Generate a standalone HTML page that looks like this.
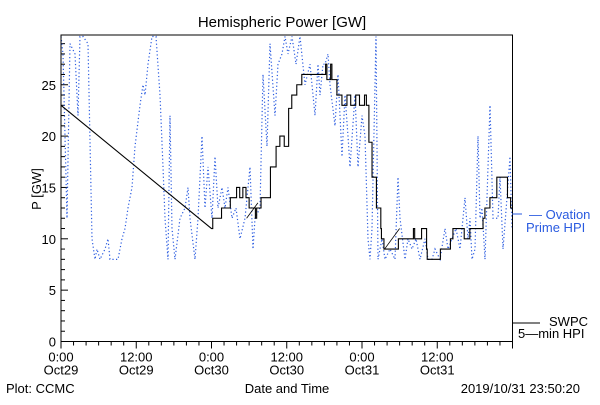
<!DOCTYPE html>
<html><head><meta charset="utf-8"><style>
body{margin:0;background:#fff}
svg text{font-family:"Liberation Sans","DejaVu Sans",sans-serif}
</style></head><body>
<svg id="c" width="600" height="400" xmlns="http://www.w3.org/2000/svg">
<rect width="600" height="400" fill="#fff"/>
<text x="282" y="27" font-size="15" text-anchor="middle">Hemispheric Power [GW]</text>
<text x="0" y="0" font-size="13" text-anchor="middle" transform="translate(41,189) rotate(-90)">P [GW]</text>
<text x="287" y="393" font-size="13" text-anchor="middle">Date and Time</text>
<text x="6" y="393" font-size="13">Plot: CCMC</text>
<text x="580" y="393" font-size="13" text-anchor="end">2019/10/31 23:50:20</text>
<g id="ticks"></g>
<g id="series"></g>
<rect x="61" y="35" width="451.5" height="306.5" fill="none" stroke="#000" stroke-width="1"/>
<line x1="512" y1="214" x2="522" y2="214" stroke="#2a5be0"/>
<text x="529" y="219" font-size="13" fill="#2a5be0">— Ovation</text>
<text x="526" y="232" font-size="13" fill="#2a5be0">Prime HPI</text>
<line x1="512" y1="323" x2="540" y2="323" stroke="#000"/>
<text x="549" y="326" font-size="13">SWPC</text>
<text x="518" y="338" font-size="13">5—min HPI</text>
</svg>
<script>
const yTicks=[0,5,10,15,20,25];
const xTickLabels=[["0:00","Oct29"],["12:00","Oct29"],["0:00","Oct30"],["12:00","Oct30"],["0:00","Oct31"],["12:00","Oct31"]];
const swpcHours=[0,24,24.2,25.6,27,28,28.5,29,29.5,30,31,31.2,31.9,32.8,33.4,34.3,34.9,35.6,36.3,36.8,37.6,38.4,42.2,42.4,43,43.2,44,44.8,45.6,46.2,47,47.6,48.4,48.7,49.1,49.6,50.3,51,51.1,51.5,53.4,53.8,56.2,56.4,57.5,58.3,58.4,59.8,60.5,62.1,62.5,63.3,64.3,65.2,67.3,67.6,68.4,69.2,69.5,70,71.2,71.7,72];
const swpcValues=[23,11,12,13,14,15,14,15,14,13,12,13,14,14,17,19,20,19,22.7,24,25,26,27,25.5,27,25.5,24,23,24,23,24,23,24,23,19.4,16,13,11,10,9,9,10,11,10,11,9,8,8,9,10,11,11,10,11,12,13,14,14,16,16,14,13,13];
const diagStartHours=[29.6,51.6];
const diagStartValues=[12,9];
const diagEndHours=[31.4,54];
const diagEndValues=[13.5,11];
const ovX=[61,63,67,70,75,78,80,83,88,92,95,97,100,105,108,110,115,118,122,125,128,132,135,140,143,145,148,152,156,160,163,165,168,170,172,175,180,185,188,190,195,198,202,205,208,212,215,218,222,225,228,232,236,240,245,250,253,255,260,263,267,270,275,278,282,285,288,292,296,300,305,310,315,318,320,323,325,328,330,335,338,342,345,348,350,355,358,362,365,368,370,372,376,378,382,385,390,395,398,400,405,408,412,416,420,425,428,432,435,440,445,448,452,456,460,465,468,470,472,475,478,480,482,485,490,493,498,500,503,507,510,512];
const ovValues=[30,28,12,29,28,22,30,30,29,10,8,9,8,9,10,8,8,8,10,11,13,15,19,23,25,24,27,30,30,24,17,12,8,22,11,8,12,13,15,12,8,12,20,13,17,12,18,13,15,13,15,12,13,10,12,17,9,12,13,26,19,29,22,27,28,30,28,30,27,30,25,27,22,27,24,27,27,28,25,21,26,18,24,20,17,24,17,22,20,10,8,11,30,8,10,8,9,8,16,12,8,10,9,10,8,10,8,8,9,8,11,9,10,11,9,14,10,12,8,9,20,12,13,8,23,12,12,16,9,14,18,11];
const NS="http://www.w3.org/2000/svg";
const X0=61,X1=512.5,Y0=341.5,PXU=10.27;
function xs(h){return X0+(X1-X0)*h/72;}
function ys(v){return Y0-Math.min(v,29.7)*PXU;}
function xFromPx(p){return (p-X0)/(X1-X0)*72;}
const tk=document.getElementById('ticks'),se=document.getElementById('series');
function mk(tag,attrs,parent){const e=document.createElementNS(NS,tag);for(const k in attrs)e.setAttribute(k,attrs[k]);parent.appendChild(e);return e;}
for(let v=0;v<=29;v++){const l=mk('line',{x1:X0,x2:X0+(v%5?4:7),y1:ys(v),y2:ys(v),stroke:'#000'},tk);

}
yTicks.forEach(v=>{const t=mk('text',{x:X0-5,y:ys(v)+5,'font-size':13,'text-anchor':'end'},tk);t.textContent=v;

});
for(let h=0;h<=72;h+=2){const l=mk('line',{x1:xs(h),x2:xs(h),y1:Y0,y2:Y0+(h%12?4:7),stroke:'#000'},tk);

}
xTickLabels.forEach((lb,i)=>{const x=xs(i*12);
const a=mk('text',{x:x,y:Y0+20,'font-size':13,'text-anchor':'middle'},tk);a.textContent=lb[0];


const b=mk('text',{x:x,y:Y0+33,'font-size':13,'text-anchor':'middle'},tk);b.textContent=lb[1];

});
const op=mk('polyline',{points:ovX.map((p,i)=>xs(xFromPx(p))+','+ys(ovValues[i])).join(' '),fill:'none',stroke:'#2a5be0','stroke-width':1.2,'stroke-dasharray':'1.2 2.4'},se);


let pts=[];swpcHours.forEach((h,i)=>{if(i>1)pts.push(xs(h)+','+ys(swpcValues[i-1]));pts.push(xs(h)+','+ys(swpcValues[i]));});
const sp=mk('polyline',{points:pts.join(' '),fill:'none',stroke:'#000','stroke-width':1.1},se);


diagStartHours.forEach((h,i)=>{const d=mk('line',{x1:xs(h),y1:ys(diagStartValues[i]),x2:xs(diagEndHours[i]),y2:ys(diagEndValues[i]),stroke:'#000','stroke-width':0.8},se);

});
</script>
</body></html>
